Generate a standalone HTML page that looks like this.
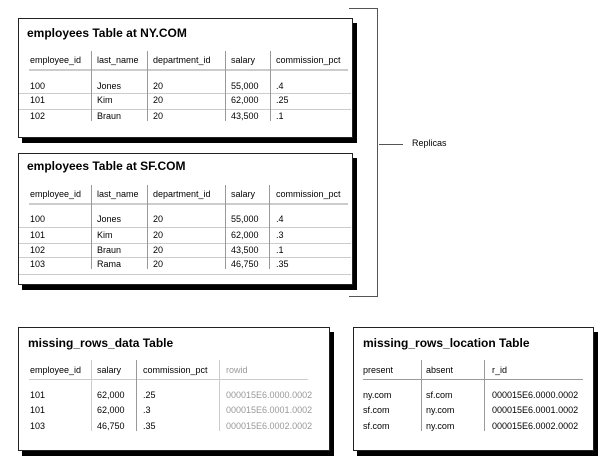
<!DOCTYPE html>
<html><head><style>
body{margin:0;width:605px;height:472px;background:#fff;position:relative;font-family:"Liberation Sans",sans-serif;overflow:hidden}
.box{position:absolute;background:#fff;border:1px solid #222;box-shadow:4px 5px 0 #000}
.t{position:absolute;font-size:9px;color:#000;white-space:nowrap;line-height:10px}
.h{position:absolute;font-size:12px;font-weight:bold;white-space:nowrap;line-height:14px}
.l{position:absolute;background:#ccc}
.v{position:absolute;background:#999;width:1px}
.k{position:absolute;background:#555}
.g{color:#999}
</style></head><body>

<div class="k" style="left:349px;top:8px;width:28px;height:1px"></div>
<div class="k" style="left:377px;top:8px;width:1px;height:289px"></div>
<div class="k" style="left:349px;top:296px;width:28px;height:1px"></div>
<div class="k" style="left:379px;top:144px;width:24px;height:1px"></div>
<div class="t" style="left:412px;top:138px">Replicas</div>

<!-- NY -->
<div class="box" style="left:18px;top:18px;width:333px;height:118px"></div>
<div class="h" style="left:27px;top:26px">employees Table at NY.COM</div>
<div class="t" style="left:30px;top:55px">employee_id</div>
<div class="t" style="left:97px;top:55px">last_name</div>
<div class="t" style="left:153px;top:55px">department_id</div>
<div class="t" style="left:231px;top:55px">salary</div>
<div class="t" style="left:276px;top:55px">commission_pct</div>
<div class="l" style="left:29px;top:69px;width:319px;height:2px"></div>
<div class="l" style="left:19px;top:93px;width:332px;height:1px"></div>
<div class="l" style="left:19px;top:109px;width:332px;height:1px"></div>
<div class="v" style="left:91px;top:51px;height:70px"></div>
<div class="v" style="left:147px;top:51px;height:70px"></div>
<div class="v" style="left:225px;top:51px;height:70px"></div>
<div class="v" style="left:270px;top:51px;height:70px"></div>
<div class="t" style="left:30px;top:81px">100</div><div class="t" style="left:97px;top:81px">Jones</div><div class="t" style="left:153px;top:81px">20</div><div class="t" style="left:231px;top:81px">55,000</div><div class="t" style="left:276px;top:81px">.4</div>
<div class="t" style="left:30px;top:95px">101</div><div class="t" style="left:97px;top:95px">Kim</div><div class="t" style="left:153px;top:95px">20</div><div class="t" style="left:231px;top:95px">62,000</div><div class="t" style="left:276px;top:95px">.25</div>
<div class="t" style="left:30px;top:111px">102</div><div class="t" style="left:97px;top:111px">Braun</div><div class="t" style="left:153px;top:111px">20</div><div class="t" style="left:231px;top:111px">43,500</div><div class="t" style="left:276px;top:111px">.1</div>

<!-- SF -->
<div class="box" style="left:18px;top:153px;width:333px;height:130px"></div>
<div class="h" style="left:27px;top:159px">employees Table at SF.COM</div>
<div class="t" style="left:30px;top:189px">employee_id</div>
<div class="t" style="left:97px;top:189px">last_name</div>
<div class="t" style="left:153px;top:189px">department_id</div>
<div class="t" style="left:231px;top:189px">salary</div>
<div class="t" style="left:276px;top:189px">commission_pct</div>
<div class="l" style="left:29px;top:203px;width:319px;height:2px"></div>
<div class="l" style="left:19px;top:227px;width:332px;height:1px"></div>
<div class="l" style="left:19px;top:243px;width:332px;height:1px"></div>
<div class="l" style="left:19px;top:257px;width:332px;height:1px"></div>
<div class="l" style="left:19px;top:274px;width:332px;height:1px"></div>
<div class="v" style="left:91px;top:185px;height:84px"></div>
<div class="v" style="left:147px;top:185px;height:84px"></div>
<div class="v" style="left:225px;top:185px;height:84px"></div>
<div class="v" style="left:269px;top:185px;height:84px"></div>
<div class="t" style="left:30px;top:214px">100</div><div class="t" style="left:97px;top:214px">Jones</div><div class="t" style="left:153px;top:214px">20</div><div class="t" style="left:231px;top:214px">55,000</div><div class="t" style="left:276px;top:214px">.4</div>
<div class="t" style="left:30px;top:230px">101</div><div class="t" style="left:97px;top:230px">Kim</div><div class="t" style="left:153px;top:230px">20</div><div class="t" style="left:231px;top:230px">62,000</div><div class="t" style="left:276px;top:230px">.3</div>
<div class="t" style="left:30px;top:245px">102</div><div class="t" style="left:97px;top:245px">Braun</div><div class="t" style="left:153px;top:245px">20</div><div class="t" style="left:231px;top:245px">43,500</div><div class="t" style="left:276px;top:245px">.1</div>
<div class="t" style="left:30px;top:259px">103</div><div class="t" style="left:97px;top:259px">Rama</div><div class="t" style="left:153px;top:259px">20</div><div class="t" style="left:231px;top:259px">46,750</div><div class="t" style="left:276px;top:259px">.35</div>

<!-- missing_rows_data -->
<div class="box" style="left:18px;top:327px;width:310px;height:122px"></div>
<div class="h" style="left:28px;top:336px">missing_rows_data Table</div>
<div class="t" style="left:30px;top:365px">employee_id</div>
<div class="t" style="left:97px;top:365px">salary</div>
<div class="t" style="left:143px;top:365px">commission_pct</div>
<div class="t g" style="left:226px;top:365px">rowid</div>
<div class="l" style="left:29px;top:379px;width:279px;height:1px"></div>
<div class="v" style="left:91px;top:360px;height:71px;background:#ccc"></div>
<div class="v" style="left:136px;top:360px;height:71px"></div>
<div class="v" style="left:219px;top:360px;height:71px;background:#ccc"></div>
<div class="t" style="left:30px;top:390px">101</div><div class="t" style="left:97px;top:390px">62,000</div><div class="t" style="left:143px;top:390px">.25</div><div class="t g" style="left:226px;top:390px">000015E6.0000.0002</div>
<div class="t" style="left:30px;top:405px">101</div><div class="t" style="left:97px;top:405px">62,000</div><div class="t" style="left:143px;top:405px">.3</div><div class="t g" style="left:226px;top:405px">000015E6.0001.0002</div>
<div class="t" style="left:30px;top:421px">103</div><div class="t" style="left:97px;top:421px">46,750</div><div class="t" style="left:143px;top:421px">.35</div><div class="t g" style="left:226px;top:421px">000015E6.0002.0002</div>

<!-- missing_rows_location -->
<div class="box" style="left:353px;top:327px;width:239px;height:122px"></div>
<div class="h" style="left:363px;top:336px">missing_rows_location Table</div>
<div class="t" style="left:363px;top:365px">present</div>
<div class="t" style="left:426px;top:365px">absent</div>
<div class="t" style="left:492px;top:365px">r_id</div>
<div class="l" style="left:363px;top:379px;width:220px;height:1px;background:#999"></div>
<div class="v" style="left:421px;top:360px;height:71px"></div>
<div class="v" style="left:484px;top:360px;height:71px"></div>
<div class="t" style="left:363px;top:390px">ny.com</div><div class="t" style="left:426px;top:390px">sf.com</div><div class="t" style="left:492px;top:390px">000015E6.0000.0002</div>
<div class="t" style="left:363px;top:405px">sf.com</div><div class="t" style="left:426px;top:405px">ny.com</div><div class="t" style="left:492px;top:405px">000015E6.0001.0002</div>
<div class="t" style="left:363px;top:421px">sf.com</div><div class="t" style="left:426px;top:421px">ny.com</div><div class="t" style="left:492px;top:421px">000015E6.0002.0002</div>
</body></html>
